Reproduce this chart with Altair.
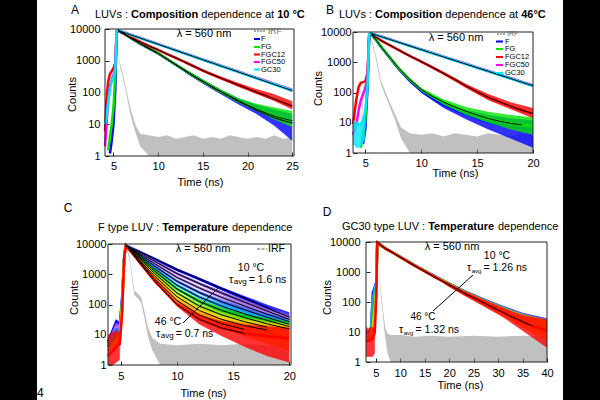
import altair as alt
import pandas as pd

W, H = 600, 400
FONT = "Liberation Sans"
GRAY = "#8c8c8c"
Y_TICKS = [1, 10, 100, 1000, 10000]

# ---------------- A: LUVs, composition dependence at 10 °C ----------------
A_NAMES = ["F", "FG", "FGC12", "FGC50", "GC30"]
A_COLORS = ["#0000ff", "#00e600", "#ff0000", "#ff00ff", "#00e5ff"]
A_T = [4.05, 4.2, 4.4, 4.6, 4.8, 5.0, 5.2, 5.35, 5.5, 6, 7, 8, 9, 10, 11, 12, 13,
       14, 15, 16, 17, 18, 19, 20, 21, 22, 23, 24, 25]
A_F = [None, None, None, 1.2, 3, 10, 120, 7000, 8900, 7600, 5000, 3400, 2400, 1700,
       1120, 740, 490, 320, 220, 150, 105, 74, 52, 38, 28, 21, 16, 13, 11]
A_FG = [None, None, 1.5, 4, 10, 35, 350, 8000, 8900, 7650, 5050, 3450, 2430, 1720,
        1140, 750, 500, 328, 225, 155, 108, 77, 55, 40, 30, 23, 18, 15, 13]
A_FGC12 = [6, 50, 220, 380, 470, 580, 850, 8500, 9000, 7500, 5300, 3900, 2900, 2200,
           1620, 1220, 900, 660, 490, 370, 285, 220, 170, 132, 102, 80, 62, 48, 37]
A_FGC50 = [2, 8, 60, 160, 250, 350, 600, 8500, 9200, 8200, 6550, 5240, 4190, 3350,
           2680, 2140, 1710, 1370, 1090, 880, 700, 562, 450, 358, 287, 230, 184, 147, 118]
A_GC30 = [10, 15, 45, 130, 220, 300, 520, 8500, 9000, 8050, 6430, 5140, 4110, 3290,
          2630, 2100, 1680, 1340, 1070, 860, 685, 550, 440, 350, 280, 224, 179, 143, 115]
A_FIT_END = [25, 25, 25, None, 25]
A_TAIL_T = [13, 15, 17, 19, 21, 23, 25]
A_TAIL_LO = [[430, 190, 88, 42, 21, 9, 3],
             [450, 200, 95, 47, 26, 14, 8],
             [820, 445, 255, 150, 90, 54, 29],
             [1600, 1010, 650, 420, 268, 172, 106],
             [1560, 990, 630, 408, 260, 165, 102]]
A_TAIL_HI = [[550, 255, 125, 66, 41, 29, 21],
             [550, 255, 125, 66, 44, 34, 26],
             [980, 540, 320, 200, 128, 88, 53],
             [1840, 1180, 760, 495, 318, 208, 133],
             [1800, 1150, 745, 478, 303, 198, 128]]
A_IRF_T = [4.8, 5.0, 5.2, 5.35, 5.5, 5.7, 6.0, 6.3, 6.6, 7.0, 7.5, 8.0, 9, 10, 11, 12,
           13, 14, 15, 16, 17, 18, 19, 20, 21, 22, 23, 24, 25]
A_IRF_LO = [1, 15, 2000, 9000, 3000, 700, 330, 140, 50, 15, 5, 2, 1, 1, 1, 1,
            1, 1, 1, 1, 1, 1, 1, 1, 1, 1, 1, 1, 1]
A_IRF_HI = [3, 40, 3500, 10000, 3600, 900, 450, 190, 75, 25, 9, 5, 4.5, 4, 4.5, 3.5,
            4, 4.5, 3.5, 4, 3.5, 4.5, 4, 3.5, 4, 3.5, 4.5, 3.5, 4]

# ---------------- B: LUVs, composition dependence at 46 °C ----------------
B_T = [3.9, 4.2, 4.4, 4.6, 4.8, 5.0, 5.2, 5.35, 5.5, 6, 6.5, 7, 8, 9, 10, 11, 12, 13,
       14, 15, 16, 17, 18, 19, 20]
B_F = [None, None, None, None, 2, 6, 150, 7000, 8800, 5100, 2900, 1700, 590, 240, 112,
       64, 40, 27, 19, 14, 10.5, 8.5, 7.2, 6.5, 6]
B_FG = [None, None, None, 1.5, 4, 12, 250, 8000, 8900, 5250, 3000, 1780, 630, 263, 126,
        74, 48, 33, 24, 18, 13.8, 11.2, 9.5, 8.5, 8]
B_FGC12 = [9, 60, 150, 210, 220, 230, 450, 8500, 8900, 6600, 5000, 4000, 2500, 1600,
           1050, 680, 430, 270, 165, 105, 69, 49, 35, 26, 20]
B_FGC50 = [4, 9, 25, 55, 90, 130, 280, 8500, 9100, 8000, 7000, 6100, 4640, 3520, 2670,
           2030, 1540, 1170, 890, 675, 513, 390, 296, 225, 171]
B_GC30 = [7, 8, 9, 9, 12, 25, 180, 8500, 9000, 7840, 6830, 5950, 4520, 3430, 2600,
          1980, 1500, 1140, 865, 657, 499, 379, 288, 218, 166]
B_FIT_END = [None, 19, 20, None, 20]
B_TAIL_T = [10, 12, 14, 16, 18, 20]
B_TAIL_LO = [[98, 31, 13, 6, 3, 1.5],
             [110, 39, 18, 10, 6, 4],
             [950, 385, 142, 55, 28, 14],
             [2450, 1400, 815, 468, 270, 153],
             [2400, 1370, 795, 458, 263, 149]]
B_TAIL_HI = [[130, 50, 27, 18, 14, 12],
             [142, 60, 33, 23, 18, 15],
             [1150, 480, 192, 90, 48, 31],
             [2880, 1670, 970, 560, 325, 192],
             [2820, 1630, 950, 548, 316, 185]]
B_HEAD_T = [3.9, 4.2, 4.5, 4.8, 5.0]
B_HEAD_LO = [2, 1.5, 1.5, 2, 3]
B_HEAD_HI = [12, 11, 10, 11, 14]
B_IRF_T = [4.6, 4.8, 5.0, 5.2, 5.4, 5.6, 5.8, 6.0, 6.4, 7.0, 7.6, 8.2, 9, 10, 11, 12,
           13, 14, 15, 16, 17, 18, 19, 20]
B_IRF_LO = [1, 70, 140, 900, 9000, 4300, 2200, 1000, 180, 50, 14, 3, 1, 1, 1, 1,
            1, 1, 1, 1, 1, 1, 1, 1]
B_IRF_HI = [6, 150, 220, 1800, 10000, 5500, 2800, 1400, 250, 70, 22, 7, 4.5, 4, 4.5, 3.5,
            4.5, 4, 3.5, 4.5, 4, 3.5, 4.5, 4]

# ---------------- C: F type LUV, temperature dependence ----------------
C_COLORS = ["#0000ff", "#8855dd", "#aa77ee", "#3366ff", "#00aaee",
            "#00cc00", "#88dd00", "#ffcc00", "#ff8800", "#ff0000"]
C_T = [3.85, 4.3, 4.6, 4.9, 5.1, 5.3, 5.45, 6, 7, 8, 10, 12, 14, 16, 18, 20]
C_COUNTS = [
    [6, 15, 28, 22, 150, 4000, 8900, 7200, 4800, 3240, 1410, 690, 330, 162, 78, 38],
    [5, 12, 22, 18, 130, 4000, 8900, 6950, 4270, 2690, 1050, 490, 238, 120, 61, 32],
    [5, 10, 18, 15, 120, 4000, 8900, 6670, 3800, 2230, 785, 350, 170, 90, 48, 27],
    [4, 9, 15, 13, 110, 4000, 8900, 6410, 3390, 1850, 585, 247, 122, 67, 38, 22],
    [4, 8, 12, 11, 100, 4000, 8900, 6150, 3020, 1530, 435, 175, 88, 49, 30, 18.6],
    [3, 6, 10, 9, 90, 4000, 8900, 5900, 2690, 1270, 325, 125, 63, 37, 23, 15.5],
    [3, 5, 8, 8, 80, 4000, 8900, 5660, 2400, 1060, 240, 88, 45, 27, 18, 13],
    [3, 4, 6, 7, 70, 4000, 8900, 5440, 2140, 880, 180, 63, 32, 20, 14.4, 10.9],
    [2, 3, 5, 6, 60, 4000, 8900, 5220, 1900, 730, 134, 45, 23, 15, 11.3, 9.1],
    [2, 3, 4, 5, 50, 4000, 8900, 5000, 1700, 600, 100, 32, 16.5, 11, 9, 7.6],
]
C_FIT_END = [20, 20, 20, 20, 20, 20, 18, 18, 16, 16]
C_TAIL_T = [10, 12, 14, 16, 18, 20]
C_TAIL_LO = [[1300, 620, 290, 138, 62, 27],
             [965, 440, 208, 100, 48, 22],
             [720, 312, 148, 74, 37, 18],
             [535, 218, 104, 54, 28, 14],
             [395, 153, 74, 38, 21, 11],
             [295, 108, 52, 28, 15, 9],
             [216, 74, 36, 19, 11, 7],
             [160, 52, 24, 13, 8, 5],
             [118, 35, 16, 9, 5, 3],
             [86, 22, 9, 4, 2, 1.2]]
C_TAIL_HI = [[1530, 770, 375, 192, 100, 55],
             [1140, 545, 272, 145, 80, 47],
             [855, 392, 196, 110, 64, 40],
             [640, 280, 143, 84, 52, 34],
             [478, 200, 105, 63, 43, 30],
             [358, 145, 77, 49, 35, 27],
             [266, 104, 57, 38, 29, 24],
             [202, 76, 42, 31, 25, 21],
             [152, 57, 33, 25, 21, 18],
             [118, 45, 28, 22, 19, 17]]
C_HEAD_T = [3.85, 4.3, 4.6, 4.9]
C_HEAD_LO = [1, 1, 1.2, 1.5]
C_HEAD_HI = [10, 12, 14, 12]
C_IRF_T = [4.9, 5.1, 5.3, 5.45, 5.6, 5.8, 6.0, 6.2, 6.5, 6.8, 7.1, 7.4, 7.8, 8.5,
           10, 12, 14, 16, 18, 20]
C_IRF_LO = [1, 40, 4000, 9000, 5000, 2500, 650, 200, 160, 115, 35, 9, 3, 1,
            1, 1, 1, 1, 1, 1]
C_IRF_HI = [4, 110, 6000, 10000, 6800, 3500, 950, 290, 230, 170, 60, 18, 8, 5,
            4.5, 5, 4.5, 5, 4.5, 5]

# ---------------- D: GC30 type LUV, temperature dependence ----------------
D_COLORS = ["#0000ff", "#9966dd", "#00bbee", "#00cc00", "#dddd00", "#ff9900", "#ff0000"]
D_T = [3.0, 3.5, 4.0, 4.4, 4.8, 5.1, 5.3, 5.5, 7, 9, 11, 13, 15, 17, 19, 21, 23, 25,
       27, 29, 31, 33, 35, 37, 40]
D_COUNTS = [
    [10, 10, 11, 200, 320, 450, 9500, 9000, 6100, 4000, 2600, 1680, 1110, 740, 495,
     335, 228, 160, 112, 80, 58, 42, 31, 24, 18],
    [9, 9, 10, 120, 280, 420, 9500, 9000, 6080, 3980, 2580, 1660, 1100, 730, 488,
     328, 222, 156, 108, 77, 55, 40, 29.5, 22.5, 17],
    [9, 9, 10, 100, 250, 400, 9500, 9000, 6060, 3960, 2560, 1650, 1090, 722, 480,
     322, 217, 152, 105, 74, 53, 38, 28, 21, 16],
    [7, 7, 8, 30, 120, 300, 9500, 9000, 6050, 3950, 2550, 1640, 1080, 715, 473,
     316, 212, 148, 102, 72, 51, 36, 26.5, 19.5, 14.5],
    [6, 6, 7, 15, 60, 250, 9500, 9000, 6030, 3930, 2530, 1625, 1070, 705, 466,
     310, 208, 145, 100, 69, 49, 34, 25, 18.5, 13.5],
    [6, 6, 6, 10, 30, 200, 9500, 9000, 6010, 3910, 2515, 1610, 1060, 698, 460,
     305, 204, 141, 97, 67, 47, 32.5, 23.5, 17, 12],
    [5, 5, 6, 6, 10, 150, 9500, 9000, 6000, 3900, 2500, 1600, 1050, 690, 455,
     300, 200, 138, 95, 65, 45, 31, 22, 16, 11],
]
D_FIT_END = [None, None, None, None, None, None, 37]
D_TAIL_T = [19, 23, 27, 31, 35, 40]
D_TAIL_LO = [[440, 195, 92, 45, 23, 12],
             [435, 190, 89, 43, 22, 11],
             [428, 186, 86, 41, 20, 10],
             [420, 182, 83, 39, 19, 9],
             [415, 178, 80, 36, 17, 7],
             [408, 172, 77, 34, 14, 5],
             [400, 166, 72, 31, 11, 3]]
D_TAIL_HI = [[550, 262, 136, 75, 44, 29],
             [543, 256, 132, 72, 42, 27],
             [535, 250, 129, 70, 40, 26],
             [528, 246, 126, 68, 39, 25],
             [522, 242, 124, 66, 38, 25],
             [516, 238, 122, 64, 37, 25],
             [512, 236, 122, 64, 37, 26]]
D_HEAD_T = [3.0, 3.5, 4.0, 4.4, 4.8]
D_HEAD_LO = [1.5, 1.5, 1.5, 1.5, 2]
D_HEAD_HI = [15, 13, 15, 14, 16]
D_IRF_T = [4.8, 5.0, 5.2, 5.35, 5.5, 5.7, 5.9, 6.2, 6.5, 6.9, 7.4, 8, 10, 13, 16, 20,
           25, 30, 35, 40]
D_IRF_LO = [1, 60, 2500, 9000, 3500, 900, 330, 90, 28, 7, 2, 1, 1, 1, 1, 1,
            1, 1, 1, 1]
D_IRF_HI = [4, 150, 4500, 10000, 5000, 1300, 500, 150, 50, 15, 9, 8, 8, 7, 7.5, 7,
            7.5, 7, 7.5, 7]

ONE = pd.DataFrame({"k": [0]})

# Arial / Liberation Sans advance widths (per 1000 em) for laying out mixed-weight titles
NORMAL_W = {" ": 278, ":": 278, "°": 400, ".": 278, "=": 584, "(": 333, ")": 333,
            "C": 722, "F": 611, "G": 778, "L": 556, "U": 722, "V": 667,
            "a": 556, "c": 500, "d": 556, "e": 556, "g": 556, "i": 222, "m": 833,
            "n": 556, "o": 556, "p": 556, "s": 500, "t": 278, "v": 500, "y": 500}
BOLD_W = {" ": 278, "°": 400, "C": 722, "T": 611, "a": 556, "e": 556, "i": 278,
          "m": 889, "n": 611, "o": 611, "p": 611, "r": 389, "s": 556, "t": 333, "u": 611}


def text_w(s, bold, size):
    table = BOLD_W if bold else NORMAL_W
    return sum(table.get(c, 556) for c in s) * size / 1000.0


def label(s, x, y, size=11, weight="normal", align="left", color="black"):
    return alt.Chart(ONE).mark_text(
        text=s, font=FONT, fontSize=size, fontWeight=weight, align=align,
        baseline="middle", color=color,
    ).encode(x=alt.value(x), y=alt.value(y))


def rule(x1, y1, x2, y2, color="black", width=1, dash=None):
    kw = dict(color=color, strokeWidth=width)
    if dash:
        kw["strokeDash"] = dash
    return alt.Chart(ONE).mark_rule(**kw).encode(
        x=alt.value(x1), y=alt.value(y1), x2=alt.value(x2), y2=alt.value(y2))


def rich(parts, x, y, size=11):
    out = []
    for s, bold in parts:
        lead = len(s) - len(s.lstrip(" "))
        out.append(label(s.strip(), x + text_w(" " * lead, bold, size), y, size,
                         "bold" if bold else "normal"))
        x += text_w(s, bold, size)
    return out


def tau(x, y, value, size, sub_size, sub_dy):
    out = [label("τ", x, y, size)]
    x += 0.45 * size
    out.append(label("avg", x, y + sub_dy, sub_size))
    x += text_w("avg", False, sub_size) + 0.2 * size
    out.append(label("= " + value, x, y, size))
    return out


def panel(box, xdom, xticks, xpad, ypad, xtitle, ytitle, t, colors, counts, fit_start,
          fit_end, tail_t, tail_lo, tail_hi, irf, head=None):
    x0, y0, x1, y1 = box
    xs = alt.Scale(domain=xdom, range=[x0, x1], nice=False, zero=False)
    ys = alt.Scale(type="log", domain=[1, 10000], range=[y1, y0], nice=False)
    xa = alt.Axis(orient="bottom", offset=y1 - H, values=xticks, title="Time (ns)",
                  grid=False, domain=False, tickSize={"expr": "-4"}, labelPadding=xpad,
                  labelFlush=False, labelOverlap=False,
                  titleX=xtitle[0], titleY=xtitle[1] - y1, titleBaseline="middle",
                  titleAlign="center")
    ya = alt.Axis(orient="left", offset=-x0, values=Y_TICKS, format="d", title="Counts",
                  grid=False, domain=False, tickSize={"expr": "-4"}, labelPadding=ypad,
                  labelFlush=False, labelOverlap=False,
                  titleX=ytitle[0] - x0, titleY=ytitle[1], titleBaseline="middle",
                  titleAlign="center")
    X = alt.X("t:Q", scale=xs, axis=xa)

    def Y(f):
        return alt.Y(f + ":Q", scale=ys, axis=ya, stack=None)

    layers = []

    def band(tt, lo, hi, color, op):
        df = pd.DataFrame({"t": tt, "lo": lo, "hi": hi}).dropna()
        layers.append(alt.Chart(df).mark_area(color=color, opacity=op).encode(
            x=X, y=Y("lo"), y2="hi"))

    def line(tt, v, color, w):
        df = pd.DataFrame({"t": tt, "v": v}).dropna()
        layers.append(alt.Chart(df).mark_line(color=color, strokeWidth=w).encode(
            x=X, y=Y("v")))

    band(irf[0], irf[1], irf[2], GRAY, 0.55)
    for i, c in enumerate(colors):
        if head is not None and head[0] == i:
            band(head[1], head[2], head[3], c, 0.8)
        band(tail_t, tail_lo[i], tail_hi[i], c, 0.8)
        line(t, counts[i], c, 2.5)
    for i, c in enumerate(colors):
        if fit_end[i] is None:
            continue
        pts = [(a, v) for a, v in zip(t, counts[i]) if fit_start <= a <= fit_end[i]]
        line([p[0] for p in pts], [p[1] for p in pts], "black", 1)
    frame = pd.DataFrame({"t": [xdom[0]], "t2": [xdom[1]], "lo": [1], "hi": [10000]})
    layers.append(alt.Chart(frame).mark_rect(
        fill="white", fillOpacity=0, stroke="#222222", strokeWidth=1).encode(
        x=X, x2="t2", y=Y("lo"), y2="hi"))
    return alt.layer(*layers)


pA = panel((105, 29, 294, 156), [4.05, 25.2], [5, 10, 15, 20, 25], 8, 9, (200, 182),
           (72, 94), A_T, A_COLORS, [A_F, A_FG, A_FGC12, A_FGC50, A_GC30], 5.5,
           A_FIT_END, A_TAIL_T, A_TAIL_LO, A_TAIL_HI, (A_IRF_T, A_IRF_LO, A_IRF_HI))
pB = panel((353, 32, 533, 153), [3.9, 20], [5, 10, 15, 20], 8, 6, (455, 173),
           (318, 88), B_T, A_COLORS, [B_F, B_FG, B_FGC12, B_FGC50, B_GC30], 5.5,
           B_FIT_END, B_TAIL_T, B_TAIL_LO, B_TAIL_HI, (B_IRF_T, B_IRF_LO, B_IRF_HI),
           head=(4, B_HEAD_T, B_HEAD_LO, B_HEAD_HI))
pC = panel((108, 244, 291, 365), [3.85, 20.15], [5, 10, 15, 20], 9, 6, (203, 393),
           (74, 297), C_T, C_COLORS, C_COUNTS, 5.45, C_FIT_END, C_TAIL_T, C_TAIL_LO,
           C_TAIL_HI, (C_IRF_T, C_IRF_LO, C_IRF_HI),
           head=(9, C_HEAD_T, C_HEAD_LO, C_HEAD_HI))
pD = panel((366, 242, 547, 362), [3, 40], [5, 10, 15, 20, 25, 30, 35, 40], 9, 10,
           (460, 385), (327, 297), D_T, D_COLORS, D_COUNTS, 5.5, D_FIT_END, D_TAIL_T,
           D_TAIL_LO, D_TAIL_HI, (D_IRF_T, D_IRF_LO, D_IRF_HI),
           head=(6, D_HEAD_T, D_HEAD_LO, D_HEAD_HI))

deco = []
# panel letters
deco += [label("A", 75, 10, 12, align="center"), label("B", 330, 10, 12, align="center"),
         label("C", 68, 208, 12, align="center"), label("D", 327, 212, 12, align="center")]
# titles
deco += rich([("LUVs : ", False), ("Composition", True), (" dependence at ", False),
              ("10 °C", True)], 95, 15)
deco += rich([("LUVs : ", False), ("Composition", True), (" dependence at ", False),
              ("46°C", True)], 339, 15)
deco += rich([("F type LUV : ", False), ("Temperature", True), (" dependence", False)],
             98, 228)
deco += rich([("GC30 type LUV : ", False), ("Temperature", True), (" dependence", False)],
             342, 227)
# excitation wavelength
deco += [label("λ = 560 nm", 204, 34, 11, align="center"),
         label("λ = 560 nm", 456, 38, 11, align="center"),
         label("λ = 560 nm", 203, 249, 11, align="center"),
         label("λ = 560 nm", 452, 247, 11, align="center")]

# legends of A and B
LEG_A_Y = [39, 47, 54.5, 62, 69.5]
LEG_B_Y = [41.5, 49, 57, 65, 73]
deco += [rule(254, 31, 266, 31, GRAY, 1.5, [2, 1]), label("IRF", 268, 31, 8.5, color="#666666")]
deco += [rule(497, 34, 505, 34, GRAY, 1.5, [2, 1]), label("IRF", 507, 34, 7, color="#666666")]
for name, c, ya, yb in zip(A_NAMES, A_COLORS, LEG_A_Y, LEG_B_Y):
    deco += [rule(254, ya, 260, ya, c, 2), label(name, 261, ya, 7.5),
             rule(496, yb, 503, yb, c, 2), label(name, 505, yb, 7.5)]
deco += [rule(257, 249, 267, 249, "#555555", 1, [3, 1.5]), label("IRF", 268, 249, 10.5)]

# lifetime annotations
deco += [label("10 °C", 251, 268, 10.5, align="center")]
deco += tau(229, 280, "1.6 ns", 10.5, 8, 2)
deco += [label("46 °C", 168, 322, 10.5, align="center")]
deco += tau(156, 334, "0.7 ns", 10.5, 8, 2)
deco += [rule(218, 288, 183, 323)]
deco += [label("10 °C", 497, 256, 10.5, align="center")]
deco += tau(467, 268, "1.26 ns", 10.5, 6, 3)
deco += [label("46 °C", 423, 317, 10, align="center")]
deco += tau(399, 330, "1.32 ns", 10.5, 6, 3)
deco += [rule(473, 275, 433, 311)]

# page furniture
deco += [label("4", 37, 393, 12)]
deco += [alt.Chart(ONE).mark_rect(color="black").encode(
            x=alt.value(0), x2=alt.value(37), y=alt.value(0), y2=alt.value(H)),
         alt.Chart(ONE).mark_rect(color="black").encode(
            x=alt.value(563), x2=alt.value(W), y=alt.value(0), y2=alt.value(H))]

chart = alt.layer(pA, pB, pC, pD, *deco).resolve_scale(
    x="independent", y="independent"
).properties(
    width=W, height=H, padding=0, autosize=alt.AutoSizeParams(type="none")
).configure_view(stroke=None).configure_axis(
    labelFont=FONT, titleFont=FONT, labelFontSize=11, titleFontSize=11,
    titleFontWeight="normal", labelColor="black", titleColor="black",
    tickColor="#222222", tickWidth=1,
)

chart.save("out.html", embed_options={"renderer": "svg", "actions": False})
